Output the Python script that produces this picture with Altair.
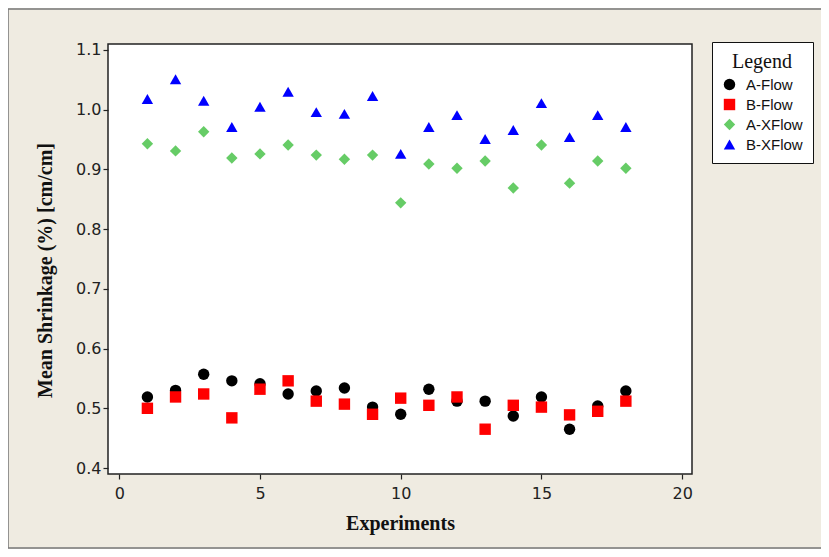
import altair as alt
import pandas as pd

experiments = list(range(1, 19))
series_names = ["A-Flow", "B-Flow", "A-XFlow", "B-XFlow"]

a_flow = [0.519, 0.530, 0.557, 0.546, 0.541, 0.524, 0.529, 0.534, 0.502,
          0.490, 0.532, 0.512, 0.512, 0.487, 0.519, 0.465, 0.504, 0.529]
b_flow = [0.500, 0.519, 0.524, 0.484, 0.532, 0.546, 0.512, 0.507, 0.490,
          0.517, 0.505, 0.519, 0.465, 0.505, 0.502, 0.489, 0.495, 0.512]
a_xflow = [0.943, 0.931, 0.963, 0.919, 0.926, 0.941, 0.924, 0.917, 0.924,
           0.844, 0.909, 0.902, 0.914, 0.869, 0.941, 0.877, 0.914, 0.902]
b_xflow = [1.018, 1.051, 1.015, 0.971, 1.005, 1.030, 0.996, 0.993, 1.023,
           0.926, 0.971, 0.991, 0.951, 0.966, 1.011, 0.954, 0.991, 0.971]

rows = []
for name, vals in zip(series_names, [a_flow, b_flow, a_xflow, b_xflow]):
    for e, v in zip(experiments, vals):
        rows.append({"Experiment": e, "Shrinkage": v, "Series": name})
df = pd.DataFrame(rows)

colors = ["#000000", "#FF0000", "#66CC66", "#0000FF"]
shapes = ["circle", "square", "diamond", "triangle-up"]
marker_sizes = [130, 130, 200, 150]

points = alt.Chart(df).mark_point(filled=True, opacity=1).encode(
    x=alt.X("Experiment:Q",
            scale=alt.Scale(domain=[-0.4, 20.35], nice=False, zero=False),
            axis=alt.Axis(values=[0, 5, 10, 15, 20], title="Experiments",
                          grid=False)),
    y=alt.Y("Shrinkage:Q",
            scale=alt.Scale(domain=[0.39, 1.11], nice=False, zero=False),
            axis=alt.Axis(values=[0.4, 0.5, 0.6, 0.7, 0.8, 0.9, 1.0, 1.1],
                          format=".1f", title="Mean Shrinkage (%) [cm/cm]",
                          grid=False, titleY=226)),
    color=alt.Color("Series:N", scale=alt.Scale(domain=series_names, range=colors),
                    legend=alt.Legend(title="Legend")),
    shape=alt.Shape("Series:N", scale=alt.Scale(domain=series_names, range=shapes),
                    legend=alt.Legend(title="Legend")),
    size=alt.Size("Series:N", scale=alt.Scale(domain=series_names, range=marker_sizes),
                  legend=None),
    order=alt.Order("order:Q"),
).transform_calculate(
    order="indexof(['A-Flow','B-Flow','A-XFlow','B-XFlow'], datum.Series)"
)

frame = alt.Chart(pd.DataFrame({"k": [0]})).mark_rect(
    fill=None, stroke="#777777", strokeWidth=1.5
).encode(
    x=alt.value(-100), x2=alt.value(740), y=alt.value(-35), y2=alt.value(504)
)

chart = alt.layer(frame, points).properties(
    width=584, height=430,
    padding={"left": 100, "top": 36, "right": 129, "bottom": 75},
    autosize=alt.AutoSizeParams(type="none"),
    background="#EFEBE1",
).configure_view(
    fill="white", stroke="#222222", strokeWidth=1.5
).configure_axis(
    labelFont="DejaVu Sans", labelFontSize=16, labelColor="#222222",
    titleFont="Liberation Serif", titleFontSize=20, titleFontWeight="bold",
    titleColor="#111111", domain=False, tickColor="#222222", tickSize=5,
    tickWidth=1.2,
).configure_axisY(
    titlePadding=20, labelPadding=2
).configure_axisX(
    titlePadding=12, labelPadding=6
).configure_legend(
    orient="none", legendX=604, legendY=-2,
    fillColor="white", strokeColor="#111111", strokeWidth=1, padding=10,
    titleFont="Liberation Serif", titleFontSize=20, titleFontWeight="normal",
    titleColor="#111111", titleAnchor="middle", titlePadding=5,
    labelFont="Liberation Sans", labelFontSize=15, labelColor="#111111",
    symbolSize=130, rowPadding=4, symbolOffset=0, labelOffset=9,
)

chart.save("out.html", embed_options={"renderer": "svg", "actions": False})
